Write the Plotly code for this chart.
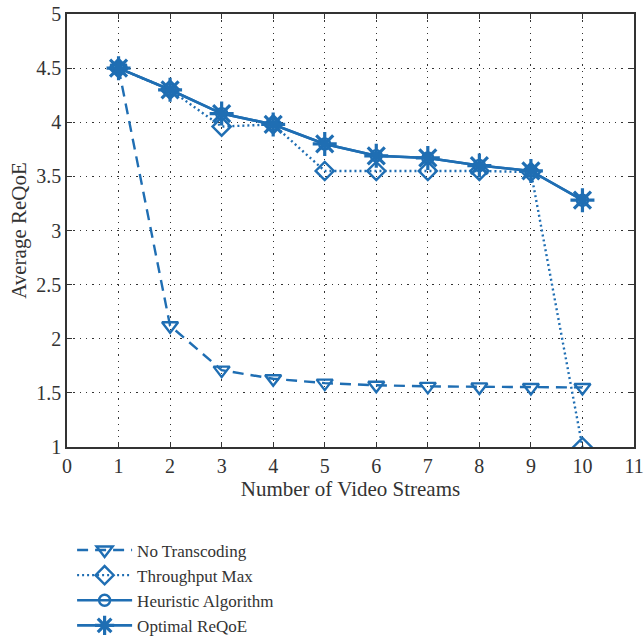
import plotly.graph_objects as go

streams = [1, 2, 3, 4, 5, 6, 7, 8, 9, 10]
no_transcoding = [4.5, 2.12, 1.71, 1.63, 1.59, 1.57, 1.56, 1.555, 1.55, 1.55]
throughput_max = [4.5, 4.3, 3.96, 3.98, 3.55, 3.55, 3.55, 3.55, 3.54, 1.0]
heuristic = [4.5, 4.3, 4.08, 3.98, 3.8, 3.69, 3.67, 3.6, 3.55, 3.28]
optimal = [4.5, 4.3, 4.08, 3.98, 3.8, 3.69, 3.67, 3.6, 3.55, 3.28]

C = "#1f6eb3"
FONT = "Liberation Serif"

fig = go.Figure()
fig.add_trace(go.Scatter(
    x=streams, y=no_transcoding, name="No Transcoding", mode="lines+markers",
    line=dict(color=C, width=2.4, dash="11px,7px"),
    marker=dict(symbol="triangle-down-open", size=14, color=C, line=dict(width=2.4, color=C))))
fig.add_trace(go.Scatter(
    x=streams, y=throughput_max, name="Throughput Max", mode="lines+markers",
    line=dict(color=C, width=2.4, dash="2px,3px"),
    marker=dict(symbol="diamond-open", size=14, color=C, line=dict(width=2.4, color=C))))
fig.add_trace(go.Scatter(
    x=streams, y=heuristic, name="Heuristic Algorithm", mode="lines+markers",
    line=dict(color=C, width=2.6),
    marker=dict(symbol="circle-open", size=11, color=C, line=dict(width=2.4, color=C))))
fig.add_trace(go.Scatter(
    x=streams, y=optimal, name="Optimal ReQoE", mode="lines+markers",
    line=dict(color=C, width=2.6),
    marker=dict(symbol="asterisk-open", size=20, color=C, line=dict(width=3.2, color=C))))

axis_common = dict(
    showline=True, linecolor="#333333", linewidth=1.6, mirror="ticks",
    ticks="inside", ticklen=5, tickcolor="#333333",
    showgrid=True, gridcolor="#333333", griddash="1.3px,5px", gridwidth=1.3,
    zeroline=False, automargin=False, ticklabeloverflow="allow",
    tickfont=dict(family=FONT, size=20, color="#333333"),
)

fig.update_layout(
    width=644, height=640,
    margin=dict(l=67, r=10, t=14, b=193),
    paper_bgcolor="white", plot_bgcolor="white",
    font=dict(family=FONT, size=20, color="#333333"),
    xaxis=dict(range=[0, 11], dtick=1, tick0=0,
               title=dict(text="Number of Video Streams", font=dict(family=FONT, size=21), standoff=2),
               **axis_common),
    yaxis=dict(range=[1, 5], dtick=0.5, tick0=1,
               title=dict(text="Average ReQoE", font=dict(family=FONT, size=21), standoff=4),
               **axis_common),
    showlegend=True,
    legend=dict(x=0.009, xref="paper", y=0.168, yref="container",
                xanchor="left", yanchor="top",
                font=dict(family=FONT, size=17, color="#333333"),
                itemwidth=55,
                bgcolor="rgba(0,0,0,0)", tracegroupgap=0),
)

fig.write_html(
    "out.html",
    config={"displayModeBar": False},
    post_script="document.body.style.margin='0';document.body.style.overflow='hidden';",
)
